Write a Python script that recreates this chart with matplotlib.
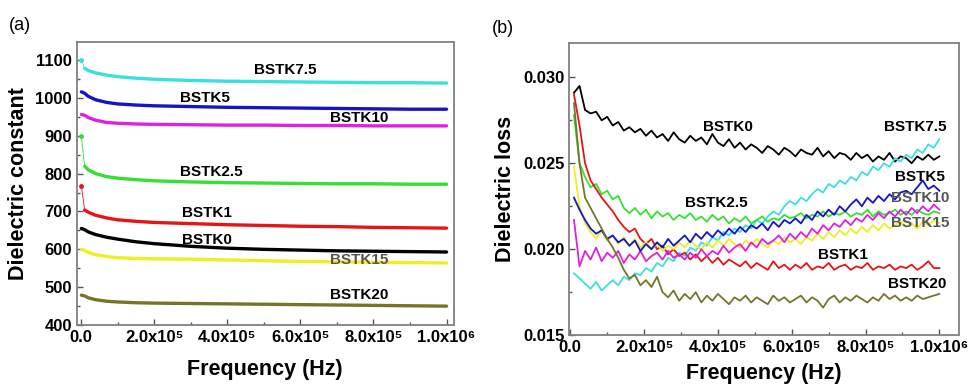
import numpy as np
import matplotlib
matplotlib.use("Agg")
import matplotlib.pyplot as plt
from matplotlib.ticker import MultipleLocator, FuncFormatter

plt.rcParams['font.family'] = ['Liberation Sans', 'DejaVu Sans']
plt.rcParams['font.weight'] = 'bold'

# ---- panel (a): dielectric constant ----
freq_a = [1e3, 1e4, 2e4, 4e4, 7e4, 1e5, 1.5e5, 2e5, 3e5, 4e5, 5e5, 6e5, 7e5, 8e5, 9e5, 1e6]
eps_bstk75 = [1100, 1078, 1072, 1066, 1060, 1056, 1052, 1049, 1046, 1044, 1043, 1042, 1041, 1040, 1040, 1039]
eps_bstk5 = [1016, 1012, 1004, 995, 988, 984, 981, 979, 977, 975, 974, 973, 972, 971, 970, 970]
eps_bstk10 = [956, 954, 948, 941, 935, 933, 931, 930, 929, 928, 928, 927, 927, 926, 926, 926]
eps_bstk25 = [898, 820, 810, 800, 792, 788, 784, 781, 778, 776, 775, 774, 773, 773, 772, 772]
eps_bstk1 = [768, 704, 698, 690, 683, 678, 674, 671, 668, 665, 663, 661, 660, 658, 657, 656]
eps_bstk0 = [655, 652, 646, 639, 632, 627, 620, 615, 608, 603, 600, 598, 596, 595, 594, 593]
eps_bstk15 = [599, 597, 592, 586, 581, 578, 576, 575, 574, 572, 570, 568, 567, 566, 565, 564]
eps_bstk20 = [479, 477, 472, 467, 463, 461, 459, 458, 457, 456, 455, 454, 453, 452, 451, 450]
spiked = ['BSTK7.5', 'BSTK2.5', 'BSTK1']

# ---- panel (b): dielectric loss (values in 1e-3) ----
freq_b = np.arange(67) * 1.5e4 + 1e4
loss_bstk0 = [29.1, 29.5, 28.1, 27.9, 28.0, 27.5, 27.7, 27.2, 27.4, 26.9,
              27.1, 26.8, 27.0, 26.6, 26.9, 26.5, 26.7, 26.3, 26.8, 26.4,
              26.2, 26.6, 26.3, 26.5, 26.1, 26.7, 26.2, 26.0, 26.4, 25.9,
              26.2, 25.8, 26.1, 25.9, 25.6, 26.0, 25.8, 25.5, 25.9, 25.7,
              25.4, 25.8, 25.6, 25.5, 25.9, 25.4, 25.7, 25.3, 25.6, 25.5,
              25.2, 25.6, 25.3, 25.5, 25.1, 25.4, 25.2, 25.6, 25.1, 25.4,
              25.3, 25.0, 25.4, 25.2, 25.5, 25.2, 25.4]
loss_bstk1 = [29.0, 27.2, 25.0, 24.0, 23.5, 23.0, 22.6, 22.2, 21.7, 21.3,
              21.0, 21.2, 20.6, 20.3, 20.6, 20.0, 20.2, 19.7, 20.0, 19.6,
              19.8, 19.4, 19.7, 19.3, 19.6, 19.2, 19.5, 19.1, 19.4, 19.2,
              19.0, 19.3, 18.9, 19.2, 19.0, 18.8, 19.3, 18.9, 19.1, 18.8,
              19.1, 18.9, 19.2, 18.8, 19.0, 18.9, 19.2, 18.8, 19.0, 19.1,
              18.8, 19.0, 18.9, 19.2, 18.8, 19.0, 18.9, 19.1, 18.8, 19.0,
              18.9, 19.1, 18.8, 19.0, 19.3, 18.9, 18.9]
loss_bstk25 = [27.8, 25.0, 24.2, 23.6, 23.8, 23.2, 23.4, 22.9, 23.1, 22.4,
               22.1, 22.4, 22.0, 22.3, 21.8, 22.2, 21.9, 22.1, 21.7, 22.0,
               21.8, 22.1, 21.7, 21.9, 21.6, 22.0, 21.7, 21.9, 21.5, 21.8,
               21.6, 21.9, 21.5, 21.7, 21.9, 21.6, 21.8, 21.7, 22.0, 21.8,
               21.9, 22.1, 21.8, 22.0, 21.9, 22.2, 21.9, 22.1, 22.0, 22.2,
               21.9, 22.1, 22.0, 22.3, 21.9, 22.2, 22.0, 22.1, 22.3, 22.0,
               22.2, 22.0, 22.3, 22.1, 22.0, 22.2, 22.1]
loss_bstk5 = [23.0, 22.3, 21.7, 21.2, 20.9, 21.1, 20.6, 20.8, 20.4, 20.6,
              20.2, 20.5, 19.9, 20.3, 20.0, 20.4, 20.1, 20.6, 20.2, 20.5,
              20.8, 20.4, 20.9, 20.6, 21.0, 20.7, 21.1, 20.8, 21.2, 20.9,
              21.3, 21.0, 21.4, 21.2, 21.5, 21.1, 21.6, 21.3, 21.7, 21.5,
              21.8, 21.5, 22.0, 21.7, 22.2, 21.9, 22.3, 22.0, 22.5, 22.2,
              22.6, 22.9, 22.5, 23.0, 22.7, 23.1, 22.8, 23.2, 22.9, 23.3,
              23.4, 23.2, 23.6, 24.0, 23.5, 23.7, 23.4]
loss_bstk75 = [18.6, 18.3, 18.0, 17.7, 18.1, 17.6, 17.9, 18.2, 17.9, 18.4,
               18.2, 18.6, 18.5, 18.9, 18.7, 19.2, 19.0, 19.5, 19.3, 19.8,
               19.6, 20.1, 19.9, 20.4, 20.2, 20.7, 20.5, 21.0, 20.8, 21.2,
               21.0, 21.4, 21.2, 21.7, 21.5, 21.9, 22.2, 22.0, 22.5, 22.8,
               22.6, 23.0, 22.8, 23.2, 23.5, 23.3, 23.8, 23.6, 24.0, 23.8,
               24.2, 24.0, 24.5, 24.3, 24.8, 24.6, 25.0, 24.8, 25.3, 25.1,
               25.5, 25.3, 25.8, 25.6, 26.1, 25.9, 26.4]
loss_bstk10 = [21.7, 19.0, 19.9, 19.4, 20.1, 19.3, 19.8, 19.5, 19.9, 19.2,
               19.7, 19.4, 19.9, 19.3, 19.6, 19.8, 19.4, 19.9, 19.5, 19.7,
               19.4, 19.8, 19.5, 20.0, 19.6, 19.9, 19.7, 20.2, 19.8, 20.1,
               20.3, 19.9, 20.4, 20.1, 20.6, 20.3, 20.5, 20.8, 20.4, 20.9,
               20.6, 21.0, 20.7, 21.2, 20.9, 21.4, 21.1, 21.5, 21.3, 21.7,
               21.4, 21.8, 21.6, 22.0, 21.7, 22.1, 21.8, 22.2, 21.9, 22.3,
               22.0, 22.4, 22.1, 22.5, 22.2, 22.6, 22.3]
loss_bstk15 = [24.8, 22.5, 21.5, 21.0, 20.6, 21.1, 20.5, 20.8, 20.3, 20.7,
               20.2, 20.6, 20.1, 20.4, 20.0, 20.3, 19.9, 20.2, 20.0, 20.4,
               20.1, 20.5, 20.2, 20.0, 20.4, 20.1, 20.5, 20.2, 20.6, 20.3,
               20.1, 20.5, 20.2, 20.6, 20.3, 20.1, 20.5, 20.3, 20.7, 20.4,
               20.6, 20.3, 20.7, 20.5, 20.9, 20.6, 21.0, 20.7, 21.1, 20.8,
               21.2, 20.9, 21.3, 21.0, 21.4, 21.1, 21.5, 21.2, 21.4, 21.6,
               21.3, 21.5, 21.2, 21.6, 21.4, 21.7, 21.5]
loss_bstk20 = [28.5, 25.0, 23.0, 22.4, 21.8, 21.2, 20.6, 20.1, 19.5, 18.8,
               18.3, 18.5, 17.9, 18.2, 17.8, 18.4, 17.5, 17.2, 17.6, 17.0,
               17.4, 17.1, 17.5, 16.9, 17.3, 17.0, 17.4, 17.1, 16.8, 17.2,
               17.0, 17.3, 16.9, 17.2, 17.0, 16.8, 17.3, 17.0, 17.2, 16.9,
               17.1, 17.3, 16.9, 17.2, 17.0, 16.6, 17.1, 17.3, 16.9, 17.2,
               17.0, 17.3, 17.1, 16.9, 17.2, 17.0, 17.4, 17.1, 17.3, 17.0,
               17.2, 17.0, 17.3, 17.1, 17.2, 17.3, 17.4]

colors = {'BSTK0': 'black', 'BSTK1': '#e51515', 'BSTK2.5': '#33e033',
          'BSTK5': '#1414c8', 'BSTK7.5': '#3ae0e0', 'BSTK10': '#e020e0',
          'BSTK15': '#eeee22', 'BSTK20': '#75752a'}

fig = plt.figure(figsize=(9.68, 3.87), dpi=100)
ax1 = fig.add_axes([0.0795, 0.160, 0.389, 0.731])
ax2 = fig.add_axes([0.588, 0.134, 0.403, 0.755])

series_a = [('BSTK7.5', eps_bstk75), ('BSTK5', eps_bstk5), ('BSTK10', eps_bstk10),
            ('BSTK2.5', eps_bstk25), ('BSTK1', eps_bstk1), ('BSTK0', eps_bstk0),
            ('BSTK15', eps_bstk15), ('BSTK20', eps_bstk20)]
for name, vals in series_a:
    if name in spiked:
        # first reading is a lone spike joined by a thin trace
        ax1.plot(freq_a[:2], vals[:2], color=colors[name], lw=0.6)
        ax1.plot(freq_a[:1], vals[:1], 'o', color=colors[name], ms=2.5)
        ax1.plot(freq_a[1:], vals[1:], color=colors[name], lw=2.4, solid_capstyle='round')
    else:
        ax1.plot(freq_a, vals, color=colors[name], lw=2.4, solid_capstyle='round')

series_b = [('BSTK0', loss_bstk0), ('BSTK7.5', loss_bstk75), ('BSTK2.5', loss_bstk25),
            ('BSTK1', loss_bstk1), ('BSTK15', loss_bstk15), ('BSTK10', loss_bstk10),
            ('BSTK5', loss_bstk5), ('BSTK20', loss_bstk20)]
for name, vals in series_b:
    ax2.plot(freq_b, np.array(vals) * 1e-3, color=colors[name], lw=1.3)

labels_a = [('BSTK7.5', 4.74e5, 1073, 'black'), ('BSTK5', 2.71e5, 1000, 'black'),
            ('BSTK10', 6.82e5, 947, 'black'), ('BSTK2.5', 2.71e5, 804, 'black'),
            ('BSTK1', 2.77e5, 696, 'black'), ('BSTK0', 2.77e5, 624, 'black'),
            ('BSTK15', 6.82e5, 572, '#555555'), ('BSTK20', 6.82e5, 479, 'black')]
for txt, x, y, c in labels_a:
    ax1.text(x, y, txt, fontsize=11, fontweight='bold', color=c, va='center', ha='left')

labels_b = [('BSTK0', 3.6e5, 0.0271, 'black'), ('BSTK7.5', 8.5e5, 0.0271, 'black'),
            ('BSTK5', 8.8e5, 0.0242, 'black'), ('BSTK10', 8.7e5, 0.0230, '#555555'),
            ('BSTK15', 8.7e5, 0.0215, '#555555'), ('BSTK2.5', 3.11e5, 0.0227, 'black'),
            ('BSTK1', 6.7e5, 0.01965, 'black'), ('BSTK20', 8.6e5, 0.0180, 'black')]
for txt, x, y, c in labels_b:
    ax2.text(x, y, txt, fontsize=11, fontweight='bold', color=c, va='center', ha='left')


def freq_fmt(v, pos):
    if abs(v) < 1:
        return '0.0'
    if v >= 1e6 - 1:
        return '%.1fx10\u2076' % (v / 1e6)
    return '%.1fx10\u2075' % (v / 1e5)


for ax in (ax1, ax2):
    ax.xaxis.set_major_locator(MultipleLocator(2e5))
    ax.xaxis.set_minor_locator(MultipleLocator(1e5))
    ax.xaxis.set_major_formatter(FuncFormatter(freq_fmt))
    ax.tick_params(which='both', direction='in', labelsize=12, color='#555555', width=1)
    ax.tick_params(which='major', length=4)
    ax.tick_params(which='minor', length=2.5)
    for sp in ax.spines.values():
        sp.set_color('#808080')
        sp.set_linewidth(1.3)
    for lab in ax.get_xticklabels() + ax.get_yticklabels():
        lab.set_fontweight('bold')

ax1.set_xlim(-1.1e4, 1.019e6)
ax1.set_ylim(400, 1147)
ax1.yaxis.set_major_locator(MultipleLocator(100))
ax1.yaxis.set_minor_locator(MultipleLocator(50))
ax1.set_ylabel('Dielectric constant', fontsize=15.5, fontweight='bold', labelpad=5)
ax1.set_xlabel('Frequency (Hz)', fontsize=15.5, fontweight='bold', labelpad=10)

ax2.set_xlim(-3e3, 1.054e6)
ax2.set_ylim(0.015, 0.032)
ax2.yaxis.set_major_locator(MultipleLocator(0.005))
ax2.yaxis.set_minor_locator(MultipleLocator(0.0025))
ax2.yaxis.set_major_formatter(FuncFormatter(lambda v, p: '%.3f' % v))
ax2.set_ylabel('Dielectric loss', fontsize=15.5, fontweight='bold', labelpad=5)
ax2.set_xlabel('Frequency (Hz)', fontsize=15.5, fontweight='bold', labelpad=6)

fig.text(0.021, 0.935, '(a)', fontsize=13, fontweight='normal', ha='center', va='center')
fig.text(0.520, 0.927, '(b)', fontsize=13, fontweight='normal', ha='center', va='center')

fig.savefig('out.png', dpi=100)
